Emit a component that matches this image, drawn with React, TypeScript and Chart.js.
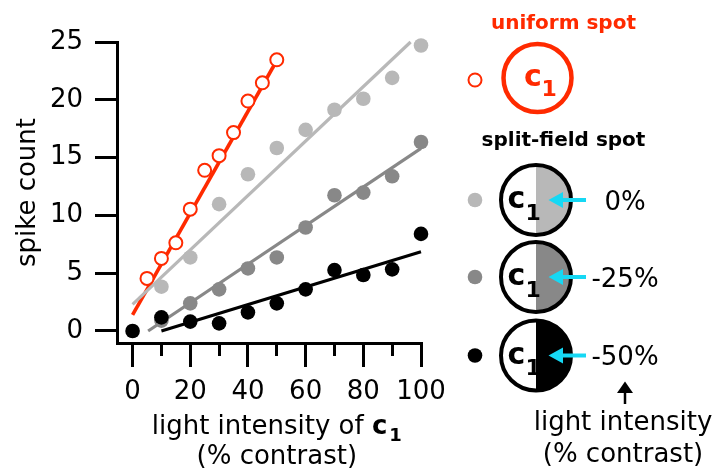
import React, { useEffect, useRef } from "react";
import { Chart, registerables } from "chart.js";

Chart.register(...registerables);

// ---------- data ----------
const xTickValues = [0, 10, 20, 30, 40, 50, 60, 70, 80, 90, 100];
const xLabelValues = [0, 20, 40, 60, 80, 100];
const yTickValues = [0, 5, 10, 15, 20, 25];

// uniform spot (red, open circles)
const uniformX = [5, 10, 15, 20, 25, 30, 35, 40, 45, 50];
const uniformY = [4.55, 6.28, 7.63, 10.54, 13.9, 15.17, 17.16, 19.89, 21.47, 23.46];
const uniformFitX = [0, 50];
const uniformFitY = [1.4, 23.4];

// split-field spot, 0% (light gray)
const split0X = [10, 20, 30, 40, 50, 60, 70, 80, 90, 100];
const split0Y = [3.83, 6.36, 10.97, 13.56, 15.83, 17.4, 19.14, 20.09, 21.9, 24.7];
const split0FitX = [0, 96.4];
const split0FitY = [2.3, 25];

// split-field spot, -25% (mid gray)
const split25X = [10, 20, 30, 40, 50, 60, 70, 80, 90, 100];
const split25Y = [0.9, 2.39, 3.6, 5.41, 6.36, 8.95, 11.74, 11.97, 13.38, 16.35];
const split25FitX = [5.4, 100];
const split25FitY = [0, 15.8];

// split-field spot, -50% (black)
const split50X = [0, 10, 20, 30, 40, 50, 60, 70, 80, 90, 100];
const split50Y = [0, 1.18, 0.81, 0.66, 1.61, 2.39, 3.6, 5.27, 4.84, 5.33, 8.4];
const split50FitX = [10, 100];
const split50FitY = [0, 6.85];

const legendLabels = ["0%", "-25%", "-50%"];
const legendHeads = ["uniform spot", "split-field spot"];

// ---------- styles ----------
const FONT = '"DejaVu Sans", sans-serif';
const RED = "#ff2a00";
const LIGHT = "#b8b8b8";
const MID = "#888888";
const DARK = "#000000";
const CYAN = "#16d8f4";
const X_MIN = -5.4;
const Y_MIN = -1.04;

const pts = (xs: number[], ys: number[]) => xs.map((x, i) => ({ x, y: ys[i] }));

function drawC1(ctx: CanvasRenderingContext2D, cX: number, cBase: number, sX: number, sBase: number, color: string) {
  ctx.fillStyle = color;
  ctx.textAlign = "center";
  ctx.textBaseline = "alphabetic";
  ctx.font = `bold 30px ${FONT}`;
  ctx.fillText("c", cX, cBase);
  ctx.textAlign = "left";
  ctx.font = `bold 22px ${FONT}`;
  ctx.fillText("1", sX, sBase);
}

const sidePlugin = {
  id: "sideDecor",
  afterDraw(chart: any) {
    const ctx: CanvasRenderingContext2D = chart.ctx;
    const xs = chart.scales.x;
    const area = chart.chartArea;
    ctx.save();

    // longer major ticks on x axis
    ctx.strokeStyle = "#000";
    ctx.lineWidth = 3;
    ctx.lineCap = "butt";
    for (const v of xLabelValues) {
      const px = Math.round(xs.getPixelForValue(v) - 1.5) + 1.5;
      ctx.beginPath();
      ctx.moveTo(px, area.bottom + 1);
      ctx.lineTo(px, area.bottom + 24);
      ctx.stroke();
    }

    // x axis title with bold c and subscript 1
    const cx = xs.getPixelForValue(50);
    const t1 = "light intensity of ";
    ctx.textBaseline = "alphabetic";
    ctx.font = `26px ${FONT}`;
    const w1 = ctx.measureText(t1).width;
    ctx.font = `bold 26px ${FONT}`;
    const wc = ctx.measureText("c").width;
    ctx.font = `bold 18px ${FONT}`;
    const ws = ctx.measureText("1").width;
    const total = w1 + wc + 2 + ws;
    const sx = cx - total / 2;
    ctx.fillStyle = "#000";
    ctx.textAlign = "left";
    ctx.font = `26px ${FONT}`;
    ctx.fillText(t1, sx, 434);
    ctx.font = `bold 26px ${FONT}`;
    ctx.fillText("c", sx + w1, 434);
    ctx.font = `bold 18px ${FONT}`;
    ctx.fillText("1", sx + w1 + wc + 2, 441);
    ctx.textAlign = "center";
    ctx.font = `26px ${FONT}`;
    ctx.fillText("(% contrast)", cx, 464);

    // ---- side legend ----
    const markX = 475;
    const circX = 536;
    const R = 35;

    // headings
    ctx.textAlign = "center";
    ctx.font = `bold 20px ${FONT}`;
    ctx.fillStyle = RED;
    ctx.fillText(legendHeads[0], 563.5, 29);
    ctx.fillStyle = "#000";
    ctx.fillText(legendHeads[1], 563.5, 146);

    // uniform spot row
    const uy = 78;
    ctx.beginPath();
    ctx.arc(markX, 80, 6.5, 0, Math.PI * 2);
    ctx.fillStyle = "#fff";
    ctx.fill();
    ctx.lineWidth = 2;
    ctx.strokeStyle = RED;
    ctx.stroke();

    ctx.beginPath();
    ctx.arc(circX + 1.5, uy, R - 1, 0, Math.PI * 2);
    ctx.lineWidth = 4.5;
    ctx.strokeStyle = RED;
    ctx.stroke();
    drawC1(ctx, circX - 3, uy + 8, circX + 5.5, uy + 18, RED);

    // split rows
    const rowY = [200, 277, 355.5];
    const fills = [LIGHT, MID, DARK];
    rowY.forEach((ry, i) => {
      // marker
      ctx.beginPath();
      ctx.arc(markX, ry, 7.3, 0, Math.PI * 2);
      ctx.fillStyle = fills[i];
      ctx.fill();

      // split circle
      ctx.beginPath();
      ctx.arc(circX, ry, R, 0, Math.PI * 2);
      ctx.fillStyle = "#fff";
      ctx.fill();
      ctx.beginPath();
      ctx.moveTo(circX, ry - R);
      ctx.arc(circX, ry, R, -Math.PI / 2, Math.PI / 2);
      ctx.closePath();
      ctx.fillStyle = fills[i];
      ctx.fill();
      ctx.beginPath();
      ctx.arc(circX, ry, R, 0, Math.PI * 2);
      ctx.lineWidth = 4;
      ctx.strokeStyle = "#000";
      ctx.stroke();
      drawC1(ctx, circX - 19.5, ry + 8, circX - 10.5, ry + 19.5, "#000");

      // cyan arrow
      ctx.strokeStyle = CYAN;
      ctx.fillStyle = CYAN;
      ctx.lineWidth = 4;
      ctx.beginPath();
      ctx.moveTo(586, ry);
      ctx.lineTo(560, ry);
      ctx.stroke();
      ctx.beginPath();
      ctx.moveTo(548.5, ry);
      ctx.lineTo(563, ry - 8);
      ctx.lineTo(563, ry + 8);
      ctx.closePath();
      ctx.fill();

      // label
      ctx.fillStyle = "#000";
      ctx.textAlign = "center";
      ctx.font = `26px ${FONT}`;
      ctx.fillText(legendLabels[i], 625, ry + 9.5);
    });

    // up arrow
    ctx.strokeStyle = "#000";
    ctx.fillStyle = "#000";
    ctx.lineWidth = 2.5;
    ctx.beginPath();
    ctx.moveTo(625, 404);
    ctx.lineTo(625, 390);
    ctx.stroke();
    ctx.beginPath();
    ctx.moveTo(625, 381.5);
    ctx.lineTo(617, 393);
    ctx.lineTo(633, 393);
    ctx.closePath();
    ctx.fill();

    ctx.textAlign = "center";
    ctx.font = `26px ${FONT}`;
    ctx.fillText("light intensity", 623, 430);
    ctx.fillText("(% contrast)", 623, 462);

    ctx.restore();
  },
};

export default function App() {
  const ref = useRef<HTMLCanvasElement>(null);

  useEffect(() => {
    const canvas = ref.current;
    if (!canvas) return;

    const fitLine = (xs: number[], ys: number[], color: string, width: number) => ({
      data: pts(xs, ys),
      showLine: true,
      borderColor: color,
      borderWidth: width,
      pointRadius: 0,
      fill: false,
      order: 10,
      clip: false as const,
    });
    const dots = (xs: number[], ys: number[], color: string, order: number) => ({
      data: pts(xs, ys),
      showLine: false,
      pointRadius: 7.3,
      pointBorderWidth: 0,
      pointBackgroundColor: color,
      pointBorderColor: color,
      order,
      clip: false as const,
    });

    const chart = new Chart(canvas, {
      type: "scatter",
      data: {
        datasets: [
          fitLine(split0FitX, split0FitY, LIGHT, 3.2),
          fitLine(split25FitX, split25FitY, MID, 3.2),
          fitLine(split50FitX, split50FitY, DARK, 3.2),
          fitLine(uniformFitX, uniformFitY, RED, 3.6),
          dots(split0X, split0Y, LIGHT, 5),
          dots(split25X, split25Y, MID, 4),
          dots(split50X, split50Y, DARK, 3),
          {
            data: pts(uniformX, uniformY),
            showLine: false,
            pointRadius: 6.5,
            pointBorderWidth: 2,
            pointBackgroundColor: "#ffffff",
            pointBorderColor: RED,
            order: 1,
            clip: false as const,
          },
        ] as any,
      },
      options: {
        responsive: false,
        animation: false,
        devicePixelRatio: 1,
        events: [],
        layout: { padding: { left: 0, top: 42, right: 291, bottom: 0 } },
        plugins: { legend: { display: false }, tooltip: { enabled: false } },
        scales: {
          x: {
            type: "linear",
            min: X_MIN,
            max: 100,
            afterBuildTicks: (s: any) => {
              s.ticks = xTickValues.map((v) => ({ value: v }));
            },
            afterFit: (s: any) => {
              s.height = 132;
            },
            grid: { drawOnChartArea: false, drawTicks: true, tickLength: 13, lineWidth: 3, color: "#000" },
            border: { display: true, width: 3, color: "#000" },
            ticks: {
              autoSkip: false,
              maxRotation: 0,
              padding: 21,
              color: "#000",
              font: { family: FONT, size: 26 },
              callback: (v: any) => (xLabelValues.includes(Number(v)) ? String(v) : ""),
            },
          },
          y: {
            type: "linear",
            min: Y_MIN,
            max: 25,
            afterBuildTicks: (s: any) => {
              s.ticks = yTickValues.map((v) => ({ value: v }));
            },
            afterFit: (s: any) => {
              s.width = 117;
            },
            grid: { drawOnChartArea: false, drawTicks: true, tickLength: 22, lineWidth: 3, color: "#000" },
            border: { display: true, width: 3, color: "#000" },
            ticks: {
              padding: 12,
              color: "#000",
              font: { family: FONT, size: 26 },
              callback: (v: any) => String(v),
            },
            title: {
              display: true,
              text: "spike count",
              color: "#000",
              font: { family: FONT, size: 26 },
              padding: { top: 13, bottom: 0 },
            },
          },
        },
      } as any,
      plugins: [sidePlugin],
    });

    return () => chart.destroy();
  }, []);

  return (
    <div style={{ position: "absolute", left: 0, top: 0, width: 712, height: 475, background: "#fff" }}>
      <canvas ref={ref} width={712} height={475} style={{ display: "block", width: 712, height: 475 }} />
    </div>
  );
}
